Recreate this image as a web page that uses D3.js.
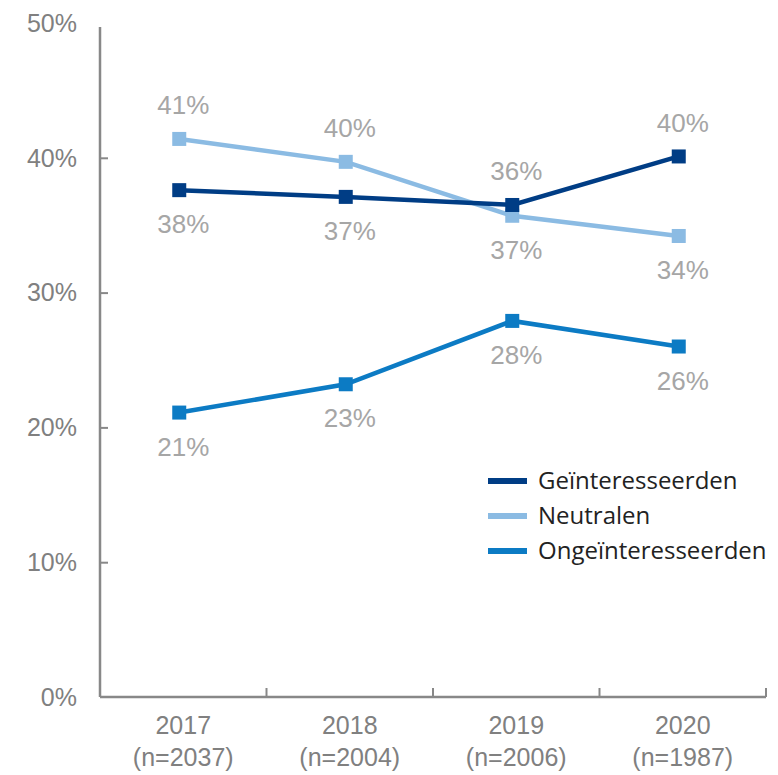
<!DOCTYPE html>
<html>
<head>
<meta charset="utf-8">
<script src="https://cdn.jsdelivr.net/npm/d3@7"></script>
<style>
  body { margin: 0; background: #fff; }
  svg { display: block; }
</style>
</head>
<body>
<div id="chart"></div>
<script>
// data
var years = ["2017", "2018", "2019", "2020"];
var counts = ["(n=2037)", "(n=2004)", "(n=2006)", "(n=1987)"];
var seriesNames = ["Geïnteresseerden", "Neutralen", "Ongeïnteresseerden"];
var geinteresseerden = [37.6, 37.1, 36.5, 40.1];
var neutralen = [41.4, 39.7, 35.7, 34.2];
var ongeinteresseerden = [21.1, 23.2, 27.9, 26.0];
// printed labels and whether they sit above (1) or below (-1) the marker
var labelsGei = ["38%", "37%", "36%", "40%"];
var sideGei = [-1, -1, 1, 1];
var labelsNeu = ["41%", "40%", "37%", "34%"];
var sideNeu = [1, 1, -1, -1];
var labelsOng = ["21%", "23%", "28%", "26%"];
var sideOng = [-1, -1, -1, -1];
var yTicks = [0, 10, 20, 30, 40, 50];

var colors = ["#003d85", "#8bbbe3", "#0c7bc4"];

// svg container
var svgWidth = 778, svgHeight = 775;
var margin = { top: 23, right: 12, bottom: 78, left: 100 };
var chartWidth = svgWidth - margin.left - margin.right;
var chartHeight = svgHeight - margin.top - margin.bottom;

var svg = d3.select("#chart").append("svg")
  .attr("width", svgWidth)
  .attr("height", svgHeight);

var chartGroup = svg.append("g")
  .attr("transform", `translate(${margin.left}, ${margin.top})`);

// scales
var xScale = d3.scaleBand().domain(years).range([0, 666]);
var yScale = d3.scaleLinear().domain([0, 50]).range([chartHeight, 0]);
var xPos = d => xScale(d) + xScale.bandwidth() / 2 - 4;

// y axis (ticks inside, none at the top)
var yAxis = d3.axisRight(yScale).tickValues(yTicks.slice(1, -1)).tickSize(8).tickFormat("");
var yG = chartGroup.append("g").call(yAxis);
yG.select(".domain").remove();
yG.selectAll("line").attr("stroke", "#888").attr("stroke-width", 2);
chartGroup.append("line")
  .attr("x1", 0).attr("x2", 0)
  .attr("y1", 4).attr("y2", chartHeight)
  .attr("stroke", "#888").attr("stroke-width", 2.5);

chartGroup.selectAll(".ylab")
  .data(yTicks)
  .enter().append("text")
  .attr("x", -23)
  .attr("y", d => yScale(d))
  .attr("dy", "0.35em")
  .attr("text-anchor", "end")
  .attr("font-family", "Liberation Sans, Arial, sans-serif")
  .attr("font-size", 25)
  .attr("fill", "#808080")
  .text(d => d + "%");

// x axis
var xG = chartGroup.append("g").attr("transform", `translate(0, ${chartHeight})`);
xG.append("line")
  .attr("x1", 0).attr("x2", 666)
  .attr("stroke", "#888").attr("stroke-width", 2.5);
xG.selectAll(".xtick")
  .data(years)
  .enter().append("line")
  .attr("x1", d => xScale(d) + xScale.step())
  .attr("x2", d => xScale(d) + xScale.step())
  .attr("y1", 0).attr("y2", -9)
  .attr("stroke", "#888").attr("stroke-width", 2);

var xLab = xG.selectAll(".xlab")
  .data(years)
  .enter().append("text")
  .attr("text-anchor", "middle")
  .attr("font-family", "Liberation Sans, Arial, sans-serif")
  .attr("font-size", 25)
  .attr("fill", "#808080");
xLab.append("tspan")
  .attr("x", d => xScale(d) + xScale.bandwidth() / 2)
  .attr("y", 37)
  .text(d => d);
xLab.append("tspan")
  .attr("x", d => xScale(d) + xScale.bandwidth() / 2)
  .attr("y", 69)
  .text((d, i) => counts[i]);

// lines
var allSeries = [
  { values: geinteresseerden, labels: labelsGei, side: sideGei },
  { values: neutralen, labels: labelsNeu, side: sideNeu },
  { values: ongeinteresseerden, labels: labelsOng, side: sideOng }
];

var line = d3.line()
  .x((d, i) => xPos(years[i]))
  .y(d => yScale(d));

// draw order: ongeinteresseerden, neutralen, geinteresseerden on top
[2, 1, 0].forEach(function(s) {
  var ser = allSeries[s];
  chartGroup.append("path")
    .datum(ser.values)
    .attr("d", line)
    .attr("fill", "none")
    .attr("stroke", colors[s])
    .attr("stroke-width", 4.5);

  chartGroup.selectAll(".m" + s)
    .data(ser.values)
    .enter().append("rect")
    .attr("x", (d, i) => xPos(years[i]) - 7)
    .attr("y", d => yScale(d) - 7)
    .attr("width", 14)
    .attr("height", 14)
    .attr("fill", colors[s]);
});

allSeries.forEach(function(ser) {
  chartGroup.selectAll(null)
    .data(ser.values)
    .enter().append("text")
    .attr("x", (d, i) => xPos(years[i]) + 4)
    .attr("y", (d, i) => yScale(d) - ser.side[i] * 34)
    .attr("dy", "0.35em")
    .attr("text-anchor", "middle")
    .attr("font-family", "Liberation Sans, Arial, sans-serif")
    .attr("font-size", 26)
    .attr("fill", "#a6a6a6")
    .text((d, i) => ser.labels[i]);
});

// legend
var legend = svg.append("g").attr("transform", "translate(488, 481)");
seriesNames.forEach(function(name, i) {
  var g = legend.append("g").attr("transform", `translate(0, ${i * 35})`);
  g.append("line")
    .attr("x1", 0).attr("x2", 39)
    .attr("stroke", colors[i])
    .attr("stroke-width", 6);
  g.append("text")
    .attr("x", 50)
    .attr("dy", "0.35em")
    .attr("font-family", "Open Sans, sans-serif")
    .attr("font-size", 24)
    .attr("fill", "#222")
    .text(name);
});
</script>
</body>
</html>
